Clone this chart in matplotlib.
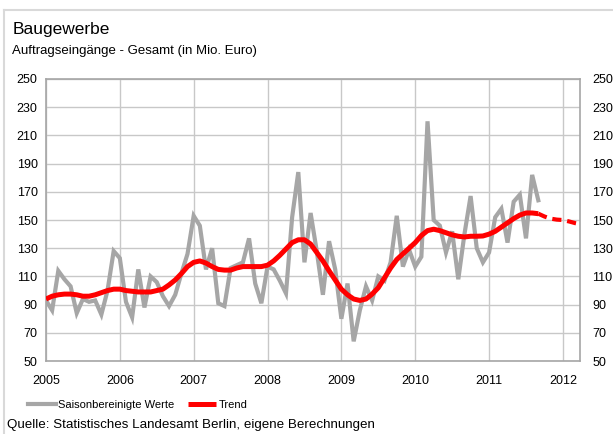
import numpy as np
import matplotlib.pyplot as plt
from matplotlib.lines import Line2D

plt.rcParams['font.family'] = ['Liberation Sans', 'DejaVu Sans']

# monthly values, Jan 2005 .. Sep 2011 (in Mio. Euro)
saison = [93, 86, 114, 108, 103, 84, 94, 92, 93, 83, 100, 128,
          123, 92, 81, 115, 88, 110, 106, 96, 89, 97, 112, 126,
          153, 146, 115, 130, 91, 89, 116, 118, 120, 137, 105, 91,
          117, 115, 107, 98, 152, 184, 120, 155, 128, 97, 135, 115,
          80, 105, 64, 86, 103, 93, 110, 107, 120, 153, 117, 129,
          117, 124, 220, 150, 146, 127, 142, 108, 140, 167, 130, 120,
          127, 152, 158, 134, 163, 168, 137, 182, 164]

trend = [94, 96, 97, 97.5, 97.5, 97, 96, 96, 97, 98.5, 100, 101,
         101, 100, 99.5, 99, 99, 99, 100, 101, 104, 107.5, 112, 117,
         120, 121, 119.5, 117, 115, 114.5, 114.5, 116, 117, 117, 117, 117,
         118, 121, 125, 129.5, 134, 136, 136, 133, 127, 121, 114, 107.5,
         101, 97, 94, 93, 94, 97.5, 102, 109, 116, 122, 126, 130,
         134, 139, 142.5, 143.5, 142.5, 141, 139.5, 138.5, 138, 138.5, 138.5, 138.7,
         140, 142, 145, 148, 151, 153.5, 155, 155, 154.5]

# trend forecast, Sep 2011 .. May 2012
trend_prog = [154.5, 152.5, 151, 150.3, 150, 149, 147.8, 147, 146.3]

years = list(range(2005, 2013))
yticks = list(range(50, 251, 20))

t_s = 2005 + np.arange(len(saison)) / 12
t_t = 2005 + np.arange(len(trend)) / 12
t_p = 2005 + (len(trend) - 1 + np.arange(len(trend_prog))) / 12

fig = plt.figure(figsize=(6.13, 4.34), dpi=100)
ax = fig.add_axes([0.075, 0.168, 0.871, 0.650])

grid_col = '#C8C8C8'
ax.plot(t_s, saison, color='#A6A6A6', linewidth=3.0, solid_joinstyle='miter', zorder=3,
        label='Saisonbereinigte Werte')
ax.plot(t_t, trend, color='#FF0000', linewidth=3.6, solid_capstyle='butt', zorder=4, label='Trend')
ax.plot(t_p, trend_prog, color='#FF0000', linewidth=3.0, dashes=(2.2, 1.4), zorder=4)

ax.set_xlim(2005, 2012.23)
ax.set_ylim(50, 250)
ax.set_xticks(years)
ax.set_xticklabels([str(y) for y in years], fontsize=9)
ax.set_yticks(yticks)
ax.set_yticklabels([str(v) for v in yticks], fontsize=9)
ax.tick_params(axis='x', length=0, pad=10)
ax.tick_params(axis='y', length=0, pad=6)
ax.grid(True, color=grid_col, linewidth=1.0, zorder=0)
ax.set_axisbelow(True)
for s in ax.spines.values():
    s.set_color('#A6A6A6')
    s.set_linewidth(1.2)

ax2 = ax.twinx()
ax2.set_ylim(50, 250)
ax2.set_yticks(yticks)
ax2.set_yticklabels([str(v) for v in yticks], fontsize=9)
ax2.tick_params(length=0, pad=9)
for s in ax2.spines.values():
    s.set_visible(False)

fig.text(0.02, 0.922, 'Baugewerbe', fontsize=12.5, ha='left', va='baseline')
fig.text(0.02, 0.875, 'Auftragseingänge - Gesamt (in Mio. Euro)', fontsize=9.5, ha='left', va='baseline')

leg = fig.legend(loc='center left', bbox_to_anchor=(0.038, 0.066), ncol=2, frameon=False,
                 fontsize=8, handlelength=2.5, handletextpad=0.2, columnspacing=1.3,
                 borderaxespad=0)

fig.text(0.012, 0.008, 'Quelle: Statistisches Landesamt Berlin, eigene Berechnungen',
         fontsize=9.6, ha='left', va='bottom')

# outer frame
fig.add_artist(Line2D([0.006, 0.006], [0, 0.977], color='#D9D9D9', linewidth=1.5))
fig.add_artist(Line2D([0.006, 1], [0.977, 0.977], color='#D9D9D9', linewidth=1.5))

fig.savefig('out.png', dpi=100)
